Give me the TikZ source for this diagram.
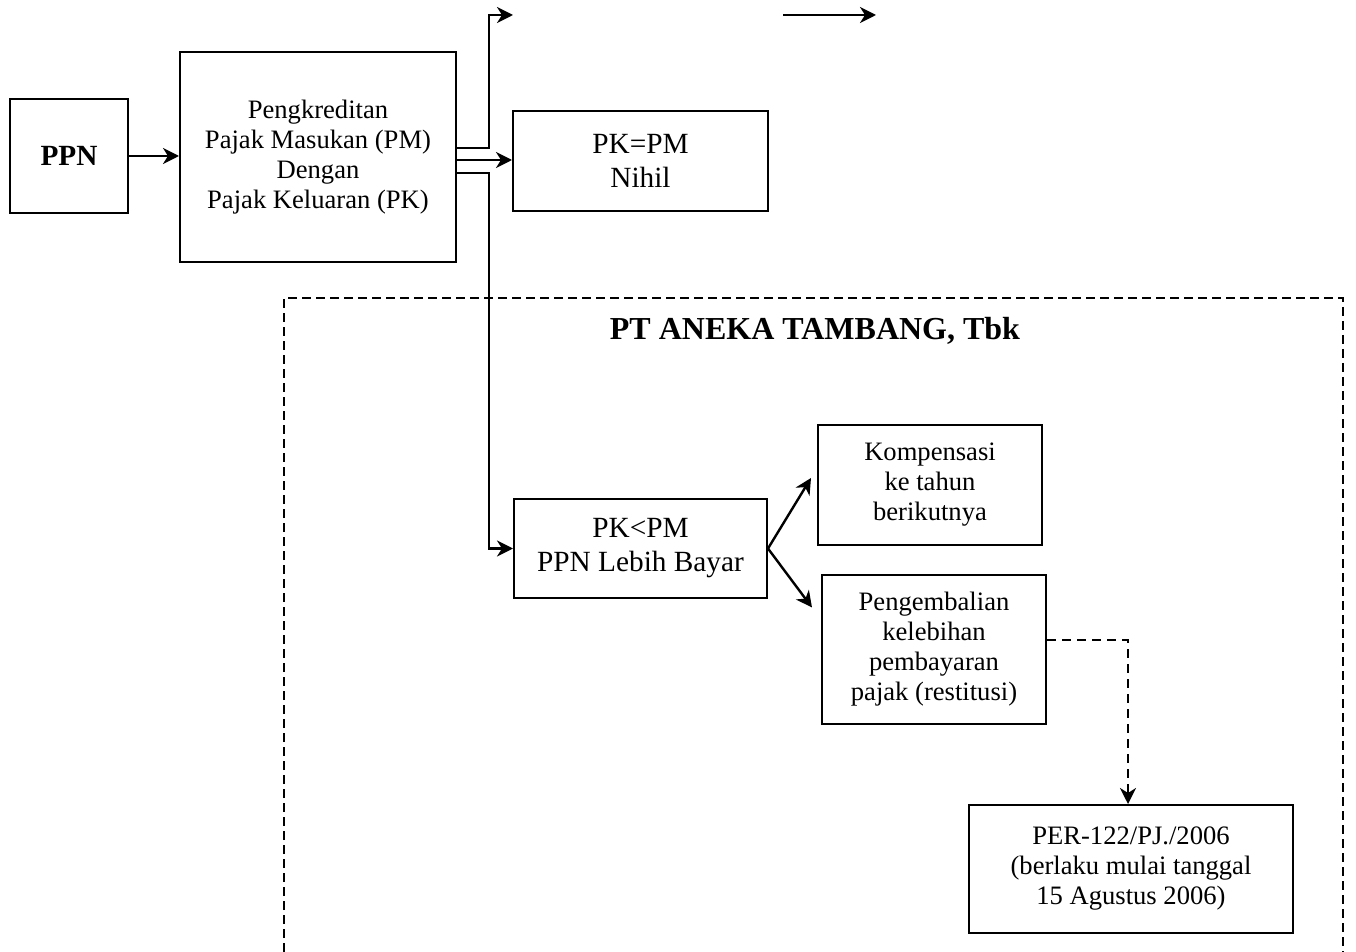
\documentclass[tikz,border=0pt]{standalone}
\usepackage{fontspec}
\setmainfont{Liberation Serif}
\usetikzlibrary{arrows.meta}
\begin{document}
\begin{tikzpicture}[x=0.5pt,y=-0.5pt, line width=1.2pt,
 box/.style={draw, line width=1pt, align=center, inner sep=0pt, font=\fontsize{13.3}{15}\selectfont},
 bigbox/.style={box, font=\fontsize{14.65}{17}\selectfont},
 arr/.style={-{Stealth[length=8pt,width=8pt,inset=2.5pt]}},
 dashbox/.style={line width=1pt, dash pattern=on 4.5pt off 2.5pt},
 dasharr/.style={arr, dash pattern=on 4.5pt off 3pt}
]
\useasboundingbox (0,0) rectangle (1356,952);

% dashed frame
\coordinate (f1) at (284,952);
\coordinate (f2) at (284,298);
\coordinate (f3) at (1343,298);
\coordinate (f4) at (1343,952);
\draw[dashbox] (f1) -- (f2) -- (f3) -- (f4);
\node[font=\bfseries\fontsize{16}{18}\selectfont] (title) at (815,331) {PT ANEKA TAMBANG, Tbk};

% boxes
\node[bigbox, minimum width=59pt, minimum height=57pt, font=\bfseries\fontsize{14.65}{17}\selectfont] (ppn) at (69,156) {PPN};
\node[box, minimum width=138pt, minimum height=105pt] (main) at (318,157)
 {Pengkreditan\\Pajak Masukan (PM)\\Dengan\\Pajak Keluaran (PK)};
\node[bigbox, minimum width=127.5pt, minimum height=50pt] (pkpm) at (640.5,161) {PK=PM\\Nihil};
\node[bigbox, minimum width=126.5pt, minimum height=49.5pt] (pklt) at (640.5,548.5) {PK<PM\\PPN Lebih Bayar};
\node[box, minimum width=112pt, minimum height=60pt] (komp) at (930,485) {Kompensasi\\ke tahun\\berikutnya};
\node[box, minimum width=112pt, minimum height=74.5pt] (peng) at (934,649.5) {Pengembalian\\kelebihan\\pembayaran\\pajak (restitusi)};
\node[box, minimum width=162pt, minimum height=64pt] (per) at (1131,869) {PER-122/PJ./2006\\(berlaku mulai tanggal\\15 Agustus 2006)};

% connectors
\draw[arr] (ppn.east) -- (main.west |- ppn.east);
\coordinate (up1) at (489,148);
\coordinate (up2) at (489,15);
\coordinate (upend) at (513,15);
\draw[arr] (main.east |- up1) -- (up1) -- (up2) -- (upend);
\draw[arr] ([yshift=0.5pt]main.east |- pkpm.west) -- ([yshift=0.5pt]pkpm.west);
\coordinate (dn1) at (489,173);
\draw[arr] (main.east |- dn1) -- (dn1) |- (pklt.west);
\coordinate (ta) at (783,15);
\coordinate (tb) at (876,15);
\draw[arr] (ta) -- (tb);

\draw[arr] (pklt.east) -- ([shift={(-3pt,3.5pt)}]komp.west);
\draw[arr] (pklt.east) -- ([shift={(-4.5pt,21pt)}]peng.west);
\draw[dasharr] ([yshift=4.75pt]peng.east) -| ([xshift=-1.5pt]per.north);
\end{tikzpicture}
\end{document}
